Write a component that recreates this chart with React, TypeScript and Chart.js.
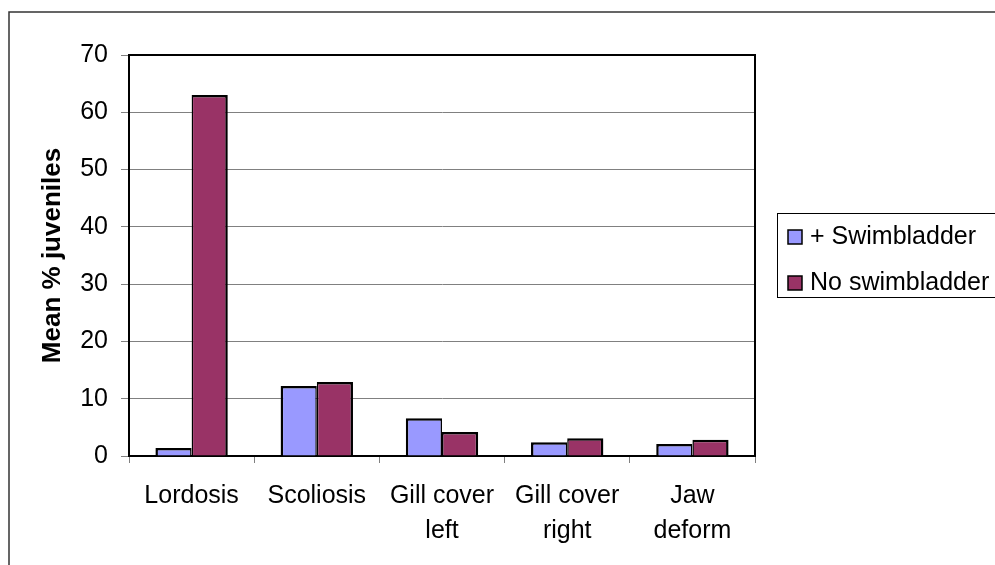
import React, { useEffect, useRef } from "react";
import { Chart, registerables } from "chart.js";

Chart.register(...registerables);

const categories: (string | string[])[] = [
  "Lordosis",
  "Scoliosis",
  ["Gill cover", "left"],
  ["Gill cover", "right"],
  ["Jaw", "deform"],
];
const withSwimbladder = [1.4, 12.2, 6.6, 2.4, 2.1];
const noSwimbladder = [63, 12.9, 4.2, 3.1, 2.85];
const seriesLabels = ["+ Swimbladder", "No swimbladder"];
const seriesColors = ["#9999FF", "#993366"];
const yTitle = "Mean % juveniles";

const FONT = "'Liberation Sans', Arial, sans-serif";

const framePlugin = {
  id: "framePlugin",
  beforeDraw(chart: any) {
    const ctx = chart.ctx;
    ctx.save();
    ctx.fillStyle = "#ffffff";
    ctx.fillRect(0, 0, chart.width, chart.height);
    ctx.strokeStyle = "#333333";
    ctx.lineWidth = 1.5;
    ctx.strokeRect(9, 12, chart.width + 20, chart.height + 20);
    ctx.restore();
  },
  afterDraw(chart: any) {
    const ctx = chart.ctx;
    const a = chart.chartArea;
    ctx.save();
    ctx.strokeStyle = "#000000";
    ctx.lineWidth = 2;
    ctx.beginPath();
    ctx.moveTo(a.left, a.top);
    ctx.lineTo(a.right, a.top);
    ctx.lineTo(a.right, a.bottom);
    ctx.stroke();

    // legend
    const bx = 777;
    const by = 213;
    const bh = 84;
    ctx.lineWidth = 1;
    ctx.strokeStyle = "#000000";
    ctx.strokeRect(bx + 0.5, by + 0.5, chart.width, bh);
    ctx.font = `25px ${FONT}`;
    ctx.textBaseline = "middle";
    ctx.textAlign = "left";
    const centers = [237, 283];
    chart.data.datasets.forEach((ds: any, i: number) => {
      const cy = centers[i];
      ctx.fillStyle = ds.backgroundColor;
      ctx.fillRect(788, cy - 7, 14, 14);
      ctx.lineWidth = 1.5;
      ctx.strokeStyle = "#000";
      ctx.strokeRect(788, cy - 7, 14, 14);
      ctx.fillStyle = "#000";
      ctx.fillText(ds.label, 810, cy);
    });
    ctx.restore();
  },
};

export default function App() {
  const ref = useRef<HTMLCanvasElement>(null);
  useEffect(() => {
    document.body.style.margin = "0";
    const canvas = ref.current!;
    const chart = new Chart(canvas, {
      type: "bar",
      data: {
        labels: categories,
        datasets: [
          {
            label: seriesLabels[0],
            data: withSwimbladder,
            backgroundColor: seriesColors[0],
            borderColor: "#000",
            borderWidth: { left: 2.5, right: 1.5, top: 2.5, bottom: 0 },
            borderSkipped: "start",
            categoryPercentage: 0.578,
            barPercentage: 1,
          },
          {
            label: seriesLabels[1],
            data: noSwimbladder,
            backgroundColor: seriesColors[1],
            borderColor: "#000",
            borderWidth: { left: 1.5, right: 2.5, top: 2.5, bottom: 0 },
            borderSkipped: "start",
            categoryPercentage: 0.578,
            barPercentage: 1,
          },
        ],
      },
      options: {
        responsive: false,
        animation: false,
        devicePixelRatio: 1,
        layout: { padding: { top: 55, right: 240, left: 0, bottom: 0 } },
        plugins: {
          legend: { display: false },
          tooltip: { enabled: false },
          title: { display: false },
        },
        scales: {
          x: {
            afterFit: (s: any) => {
              s.height = 109;
            },
            grid: {
              display: true,
              drawOnChartArea: false,
              drawTicks: true,
              tickLength: 7,
              color: "#808080",
              offset: true,
            },
            border: { display: true, color: "#000", width: 2 },
            ticks: {
              color: "#000",
              font: { family: FONT, size: 25, lineHeight: 1.4 },
              padding: 16,
              maxRotation: 0,
              autoSkip: false,
            },
          },
          y: {
            min: 0,
            max: 70,
            afterFit: (s: any) => {
              s.width = 129;
            },
            grid: {
              color: "#808080",
              lineWidth: 1,
              tickLength: 8,
              drawTicks: true,
            },
            border: { display: true, color: "#000", width: 2 },
            ticks: {
              stepSize: 10,
              color: "#000",
              font: { family: FONT, size: 25 },
              padding: 13,
            },
            title: {
              display: true,
              text: yTitle,
              color: "#000",
              font: { family: FONT, size: 26, weight: "bold", lineHeight: 1.2 },
              padding: { top: 37, bottom: 0 },
            },
          },
        },
      },
      plugins: [framePlugin],
    });
    return () => chart.destroy();
  }, []);
  return (
    <canvas
      ref={ref}
      width={995}
      height={565}
      style={{ display: "block", width: 995, height: 565 }}
    />
  );
}
